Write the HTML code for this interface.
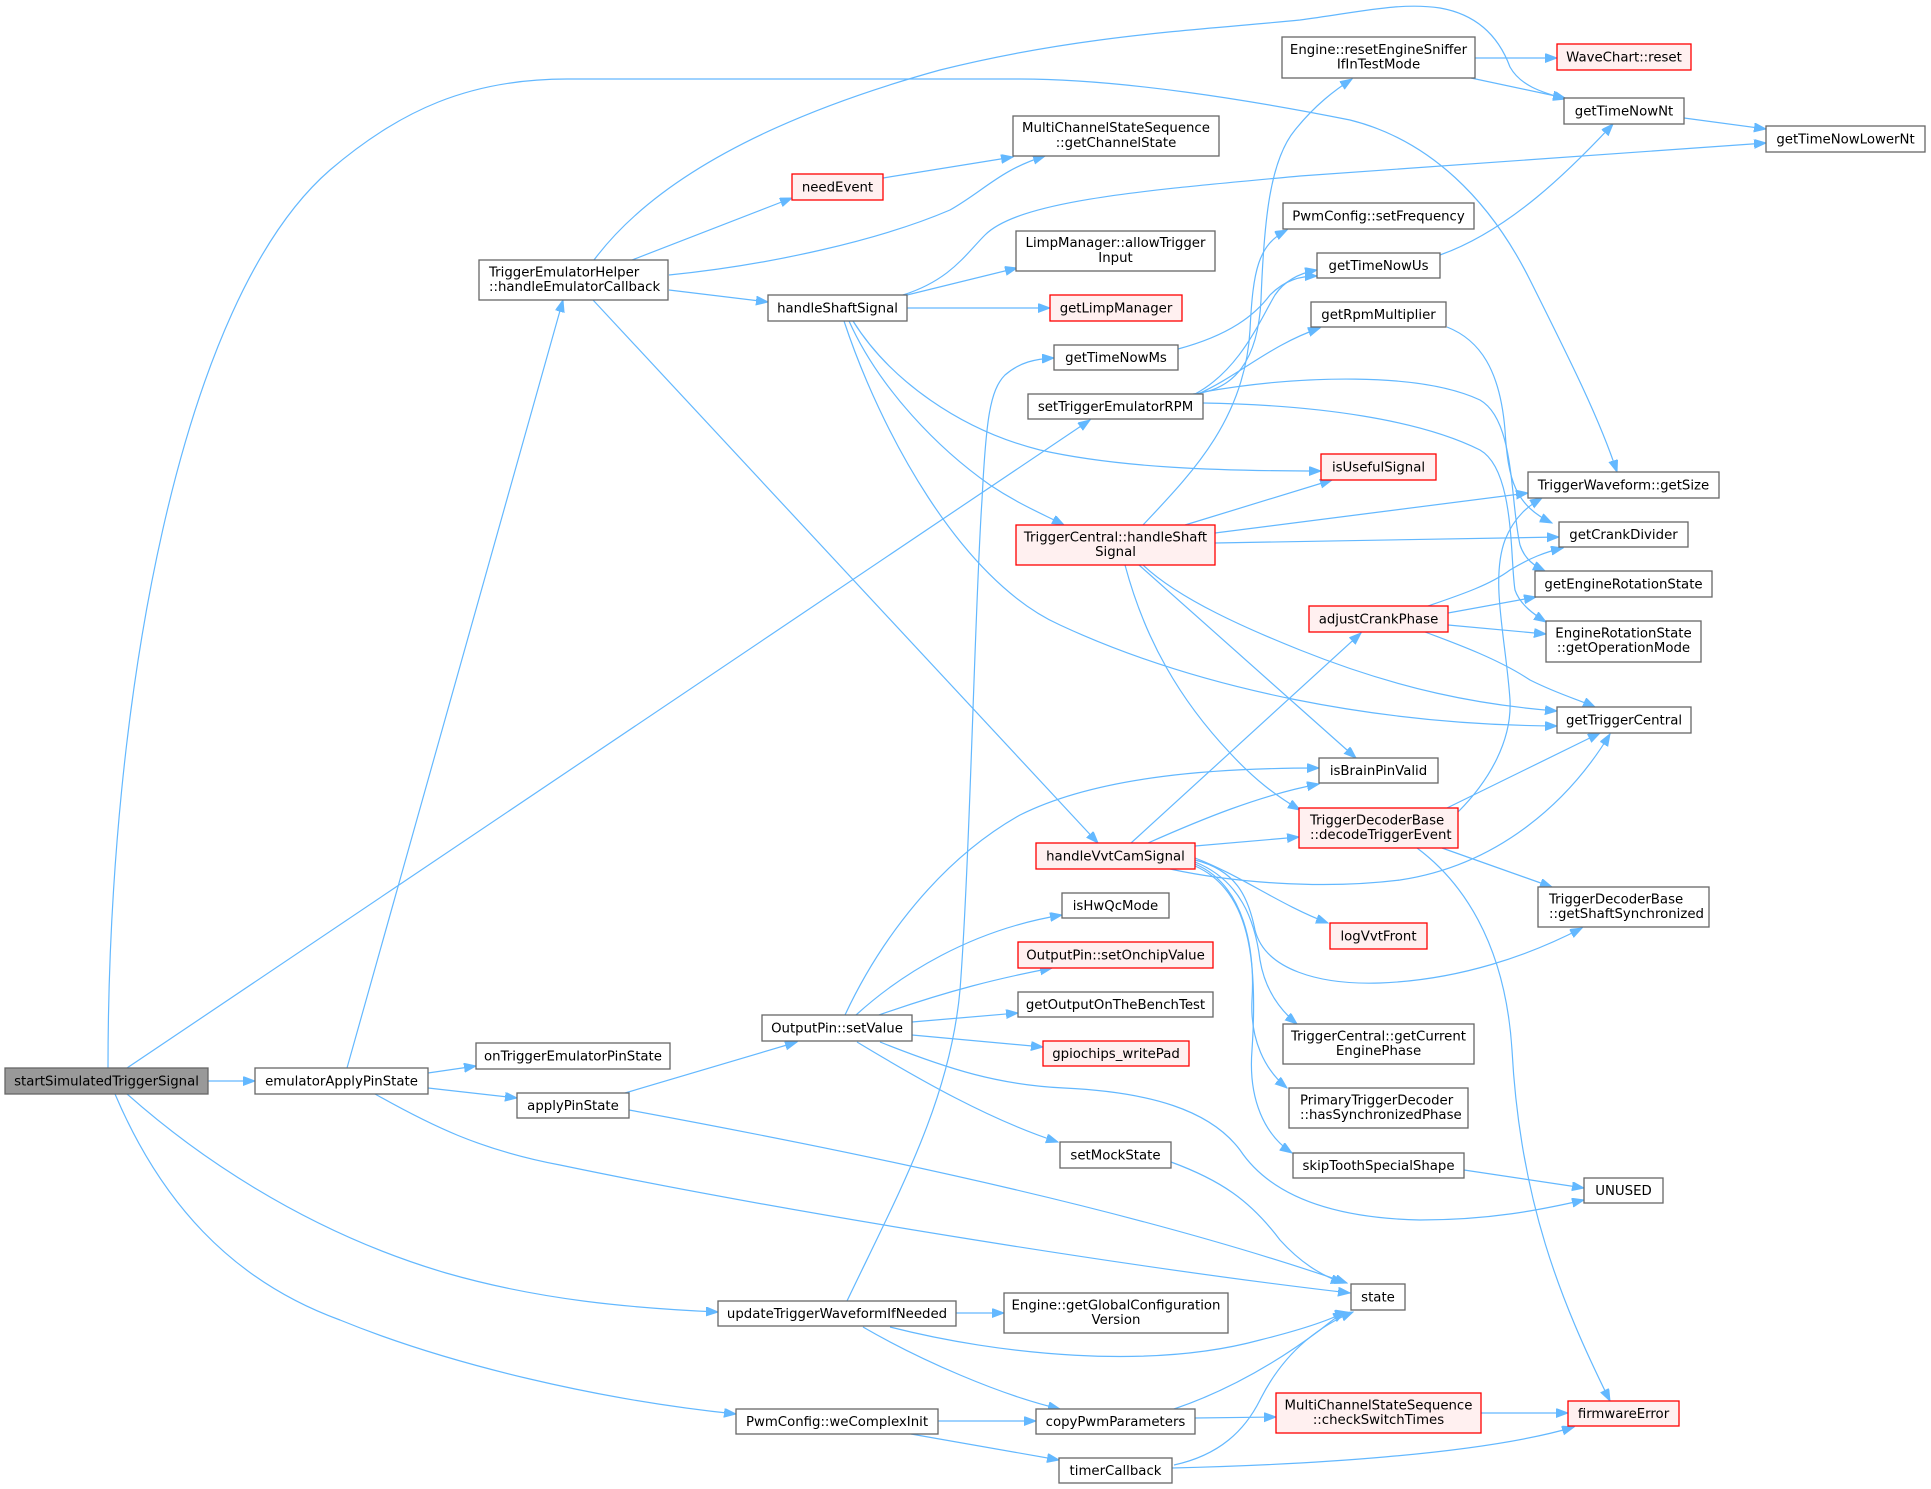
<!DOCTYPE html>
<html><head><meta charset="utf-8"><style>
html,body{margin:0;padding:0;background:#fff;}
svg{display:block;}
text{font-family:"DejaVu Sans","Liberation Sans",sans-serif;font-size:13.3px;fill:#000;}
.n{fill:#fff;stroke:#666;stroke-width:1.3;}
.r{fill:#fff0f0;stroke:#ff0000;stroke-width:1.3;}
.g{fill:#999;stroke:#666;stroke-width:1.3;}
.e{fill:none;stroke:#63b8ff;stroke-width:1.2;marker-end:url(#a);}
</style></head><body>
<svg width="1931" height="1489" viewBox="0 0 1931 1489" xmlns="http://www.w3.org/2000/svg">
<defs><marker id="a" markerWidth="13" markerHeight="10" refX="12" refY="4.5" orient="auto" markerUnits="userSpaceOnUse"><path d="M0,0 L12,4.5 L0,9 z" fill="#63b8ff" stroke="#63b8ff" stroke-width="1"/></marker></defs>

<!-- edges -->
<path class="e" d="M208,1081 L255,1081"/>
<path class="e" d="M108,1068 C108,700 180,300 330,170 C400,110 470,79 567,79 L1020,79 C1120,79 1250,100 1350,120 C1430,140 1490,200 1530,280 C1570,360 1600,420 1617,472"/>
<path class="e" d="M127,1068 L1090,420"/>
<path class="e" d="M127,1094 C190,1150 300,1230 446,1273 C540,1300 630,1308 718,1312"/>
<path class="e" d="M115,1094 C160,1200 230,1280 340,1320 C450,1365 600,1400 736,1414"/>
<path class="e" d="M347,1068 L563,300"/>
<path class="e" d="M428,1073 L476,1066"/>
<path class="e" d="M428,1088 L517,1098"/>
<path class="e" d="M375,1094 C430,1125 480,1150 560,1165 C800,1215 1150,1270 1350,1293"/>
<path class="e" d="M625,1093 L797,1042"/>
<path class="e" d="M629,1110 C900,1160 1150,1215 1347,1283"/>
<path class="e" d="M594,260 C650,185 760,120 940,70 C1080,35 1200,30 1300,20 C1360,12 1400,2 1440,8 C1480,15 1500,40 1510,67 C1520,85 1540,92 1566,99"/>
<path class="e" d="M632,260 L792,198"/>
<path class="e" d="M669,275 C770,265 880,240 950,210 C985,190 1000,170 1045,156"/>
<path class="e" d="M669,290 L768,302"/>
<path class="e" d="M593,300 L1098,843"/>
<path class="e" d="M883,178 L1013,157"/>
<path class="e" d="M903,295 C950,280 965,255 985,235 C1020,200 1150,190 1300,176 L1766,143"/>
<path class="e" d="M907,295 L1017,268"/>
<path class="e" d="M907,308 L1050,308"/>
<path class="e" d="M853,321 C890,380 960,430 1040,450 C1120,468 1220,471 1321,471"/>
<path class="e" d="M849,321 C880,390 940,450 990,485 C1020,505 1045,515 1064,525"/>
<path class="e" d="M844,321 C880,430 960,580 1060,625 C1200,690 1380,725 1557,726"/>
<path class="e" d="M1143,525 C1190,475 1245,420 1250,330 C1253,270 1258,245 1287,230"/>
<path class="e" d="M1193,394 C1235,390 1258,360 1261,300 C1264,220 1270,160 1295,130 C1315,105 1335,90 1352,79"/>
<path class="e" d="M1185,525 L1332,480"/>
<path class="e" d="M1215,533 L1528,493"/>
<path class="e" d="M1215,543 L1559,537"/>
<path class="e" d="M1143,565 C1180,600 1250,630 1300,650 C1400,690 1480,705 1557,711"/>
<path class="e" d="M1139,565 L1356,758"/>
<path class="e" d="M1125,565 C1145,640 1180,700 1230,753 C1255,780 1275,795 1300,810"/>
<path class="e" d="M1195,394 C1240,370 1260,320 1275,295 C1285,280 1300,273 1317,270"/>
<path class="e" d="M1198,394 C1240,375 1270,345 1320,328"/>
<path class="e" d="M1203,392 C1300,375 1420,372 1480,400 C1515,420 1510,500 1520,545 C1525,560 1535,566 1545,571"/>
<path class="e" d="M1203,403 C1320,405 1420,420 1480,450 C1515,470 1510,560 1515,590 C1520,605 1535,615 1546,622"/>
<path class="e" d="M1447,327 C1480,340 1500,370 1505,430 C1508,480 1515,505 1552,523"/>
<path class="e" d="M1178,349 C1230,335 1255,315 1270,295 C1285,280 1300,276 1317,276"/>
<path class="e" d="M1440,255 C1510,230 1570,170 1613,124"/>
<path class="e" d="M1475,58 L1557,58"/>
<path class="e" d="M1471,78 L1565,98"/>
<path class="e" d="M1684,118 L1766,129"/>
<path class="e" d="M1131,843 L1361,633"/>
<path class="e" d="M1148,843 C1200,820 1260,795 1319,784"/>
<path class="e" d="M1195,846 L1299,837"/>
<path class="e" d="M1170,869 C1230,882 1320,890 1400,880 C1500,865 1570,800 1610,734"/>
<path class="e" d="M1195,858 C1240,875 1280,905 1328,923"/>
<path class="e" d="M1195,860 C1235,870 1248,895 1255,930 C1265,970 1320,985 1380,983 C1460,980 1530,955 1582,928"/>
<path class="e" d="M1195,862 C1240,880 1255,920 1260,960 C1265,990 1280,1010 1297,1024"/>
<path class="e" d="M1195,864 C1245,885 1255,950 1252,1000 C1250,1040 1265,1070 1287,1088"/>
<path class="e" d="M1195,866 C1250,890 1258,960 1252,1050 C1248,1100 1265,1135 1292,1153"/>
<path class="e" d="M1428,606 C1460,595 1490,585 1510,570 C1530,558 1545,552 1563,548"/>
<path class="e" d="M1448,613 L1536,597"/>
<path class="e" d="M1448,625 L1546,634"/>
<path class="e" d="M1425,632 C1460,645 1500,660 1530,680 C1560,695 1580,700 1595,707"/>
<path class="e" d="M1458,812 C1490,780 1512,740 1510,700 C1506,640 1490,580 1505,540 C1515,515 1530,505 1542,498"/>
<path class="e" d="M1447,808 L1600,733"/>
<path class="e" d="M1442,848 L1552,887"/>
<path class="e" d="M1417,848 C1460,880 1505,940 1512,1050 C1520,1200 1560,1300 1610,1401"/>
<path class="e" d="M845,1015 C880,940 940,860 1020,815 C1100,775 1220,768 1319,768"/>
<path class="e" d="M856,1015 C900,975 970,930 1062,915"/>
<path class="e" d="M879,1015 C950,990 1000,978 1052,968"/>
<path class="e" d="M912,1022 L1018,1013"/>
<path class="e" d="M912,1035 L1043,1047"/>
<path class="e" d="M857,1042 C920,1080 990,1120 1058,1142"/>
<path class="e" d="M880,1042 C950,1070 1000,1085 1064,1088 C1150,1092 1210,1110 1240,1150 C1270,1195 1330,1218 1420,1220 C1490,1220 1540,1210 1584,1200"/>
<path class="e" d="M1171,1162 C1220,1180 1250,1200 1280,1240 C1300,1262 1320,1275 1343,1283"/>
<path class="e" d="M1464,1170 L1584,1188"/>
<path class="e" d="M847,1301 C900,1190 950,1100 960,990 C970,860 975,600 982,500 C986,420 990,390 1005,375 C1020,362 1035,359 1054,358"/>
<path class="e" d="M956,1313 L1004,1313"/>
<path class="e" d="M890,1327 C1000,1355 1150,1370 1260,1340 C1300,1330 1330,1320 1345,1312"/>
<path class="e" d="M863,1327 C920,1360 1000,1395 1060,1409"/>
<path class="e" d="M938,1421 L1036,1421"/>
<path class="e" d="M911,1434 L1059,1460"/>
<path class="e" d="M1174,1409 C1230,1390 1280,1360 1320,1330 C1335,1318 1342,1313 1347,1312"/>
<path class="e" d="M1195,1418 L1276,1417"/>
<path class="e" d="M1174,1465 C1220,1455 1245,1430 1260,1400 C1280,1360 1310,1330 1353,1312"/>
<path class="e" d="M1172,1468 C1300,1465 1480,1455 1574,1427"/>
<path class="e" d="M1481,1413 L1568,1413"/>

<!-- nodes -->
<rect class="g" x="5" y="1068" width="203" height="26"/><text x="106.5" y="1085.5" text-anchor="middle">startSimulatedTriggerSignal</text>
<rect class="n" x="255" y="1068" width="173" height="26"/><text x="341.5" y="1085.5" text-anchor="middle">emulatorApplyPinState</text>
<rect class="n" x="479" y="260" width="189" height="40"/><text x="489" y="276.5">TriggerEmulatorHelper</text><text x="489" y="291">::handleEmulatorCallback</text>
<rect class="n" x="476" y="1043" width="194" height="26"/><text x="573" y="1060.5" text-anchor="middle">onTriggerEmulatorPinState</text>
<rect class="n" x="517" y="1093" width="112" height="25"/><text x="573" y="1110" text-anchor="middle">applyPinState</text>
<rect class="n" x="1013" y="116" width="206" height="40"/><text x="1116" y="132" text-anchor="middle">MultiChannelStateSequence</text><text x="1116" y="147" text-anchor="middle">::getChannelState</text>
<rect class="r" x="792" y="174" width="91" height="26"/><text x="837.5" y="191.5" text-anchor="middle">needEvent</text>
<rect class="n" x="1016" y="231" width="199" height="40"/><text x="1115.5" y="247" text-anchor="middle">LimpManager::allowTrigger</text><text x="1115.5" y="262" text-anchor="middle">Input</text>
<rect class="n" x="768" y="295" width="139" height="26"/><text x="837.5" y="312.5" text-anchor="middle">handleShaftSignal</text>
<rect class="r" x="1050" y="295" width="132" height="26"/><text x="1116" y="312.5" text-anchor="middle">getLimpManager</text>
<rect class="n" x="1054" y="345" width="124" height="25"/><text x="1116" y="362" text-anchor="middle">getTimeNowMs</text>
<rect class="n" x="1028" y="394" width="175" height="25"/><text x="1115.5" y="411" text-anchor="middle">setTriggerEmulatorRPM</text>
<rect class="n" x="1282" y="37" width="193" height="41"/><text x="1378.5" y="54" text-anchor="middle">Engine::resetEngineSniffer</text><text x="1378.5" y="68.5" text-anchor="middle">IfInTestMode</text>
<rect class="r" x="1557" y="44" width="134" height="26"/><text x="1624" y="61.5" text-anchor="middle">WaveChart::reset</text>
<rect class="n" x="1564" y="98" width="120" height="26"/><text x="1624" y="115.5" text-anchor="middle">getTimeNowNt</text>
<rect class="n" x="1766" y="126" width="159" height="26"/><text x="1845.5" y="143.5" text-anchor="middle">getTimeNowLowerNt</text>
<rect class="n" x="1283" y="203" width="191" height="26"/><text x="1378.5" y="220.5" text-anchor="middle">PwmConfig::setFrequency</text>
<rect class="n" x="1317" y="253" width="123" height="25"/><text x="1378.5" y="270" text-anchor="middle">getTimeNowUs</text>
<rect class="n" x="1311" y="302" width="135" height="25"/><text x="1378.5" y="319" text-anchor="middle">getRpmMultiplier</text>
<rect class="r" x="1321" y="454" width="115" height="26"/><text x="1378.5" y="471.5" text-anchor="middle">isUsefulSignal</text>
<rect class="n" x="1528" y="472" width="191" height="26"/><text x="1623.5" y="489.5" text-anchor="middle">TriggerWaveform::getSize</text>
<rect class="r" x="1016" y="525" width="199" height="40"/><text x="1115.5" y="541.5" text-anchor="middle">TriggerCentral::handleShaft</text><text x="1115.5" y="556" text-anchor="middle">Signal</text>
<rect class="r" x="1036" y="843" width="159" height="26"/><text x="1115.5" y="860.5" text-anchor="middle">handleVvtCamSignal</text>
<rect class="n" x="1062" y="893" width="107" height="25"/><text x="1115.5" y="910" text-anchor="middle">isHwQcMode</text>
<rect class="r" x="1018" y="942" width="195" height="26"/><text x="1115.5" y="959.5" text-anchor="middle">OutputPin::setOnchipValue</text>
<rect class="n" x="1018" y="992" width="195" height="25"/><text x="1115.5" y="1009" text-anchor="middle">getOutputOnTheBenchTest</text>
<rect class="n" x="1559" y="522" width="129" height="25"/><text x="1623.5" y="539" text-anchor="middle">getCrankDivider</text>
<rect class="n" x="1535" y="571" width="177" height="26"/><text x="1623.5" y="588.5" text-anchor="middle">getEngineRotationState</text>
<rect class="n" x="1546" y="621" width="155" height="41"/><text x="1623.5" y="637.5" text-anchor="middle">EngineRotationState</text><text x="1623.5" y="652" text-anchor="middle">::getOperationMode</text>
<rect class="r" x="1309" y="606" width="139" height="26"/><text x="1378.5" y="623.5" text-anchor="middle">adjustCrankPhase</text>
<rect class="n" x="1557" y="707" width="134" height="26"/><text x="1624" y="724.5" text-anchor="middle">getTriggerCentral</text>
<rect class="n" x="1319" y="758" width="119" height="25"/><text x="1378.5" y="775" text-anchor="middle">isBrainPinValid</text>
<rect class="r" x="1299" y="808" width="159" height="40"/><text x="1310" y="824.5">TriggerDecoderBase</text><text x="1310" y="839">::decodeTriggerEvent</text>
<rect class="n" x="1538" y="887" width="171" height="40"/><text x="1549" y="903.5">TriggerDecoderBase</text><text x="1549" y="918">::getShaftSynchronized</text>
<rect class="r" x="1330" y="923" width="97" height="26"/><text x="1378.5" y="940.5" text-anchor="middle">logVvtFront</text>
<rect class="n" x="762" y="1015" width="150" height="26"/><text x="837" y="1032.5" text-anchor="middle">OutputPin::setValue</text>
<rect class="r" x="1043" y="1041" width="146" height="25"/><text x="1116" y="1058" text-anchor="middle">gpiochips_writePad</text>
<rect class="n" x="1060" y="1142" width="111" height="26"/><text x="1115.5" y="1159.5" text-anchor="middle">setMockState</text>
<rect class="n" x="718" y="1301" width="238" height="25"/><text x="837" y="1318" text-anchor="middle">updateTriggerWaveformIfNeeded</text>
<rect class="n" x="1004" y="1293" width="224" height="40"/><text x="1116" y="1309.5" text-anchor="middle">Engine::getGlobalConfiguration</text><text x="1116" y="1324" text-anchor="middle">Version</text>
<rect class="n" x="736" y="1409" width="202" height="25"/><text x="837" y="1426" text-anchor="middle">PwmConfig::weComplexInit</text>
<rect class="n" x="1036" y="1409" width="159" height="25"/><text x="1115.5" y="1426" text-anchor="middle">copyPwmParameters</text>
<rect class="n" x="1059" y="1458" width="113" height="25"/><text x="1115.5" y="1475" text-anchor="middle">timerCallback</text>
<rect class="n" x="1283" y="1024" width="191" height="40"/><text x="1378.5" y="1040.5" text-anchor="middle">TriggerCentral::getCurrent</text><text x="1378.5" y="1055" text-anchor="middle">EnginePhase</text>
<rect class="n" x="1289" y="1088" width="179" height="40"/><text x="1300" y="1104.5">PrimaryTriggerDecoder</text><text x="1300" y="1119">::hasSynchronizedPhase</text>
<rect class="n" x="1293" y="1153" width="171" height="25"/><text x="1378.5" y="1170" text-anchor="middle">skipToothSpecialShape</text>
<rect class="n" x="1584" y="1178" width="79" height="25"/><text x="1623.5" y="1195" text-anchor="middle">UNUSED</text>
<rect class="n" x="1351" y="1284" width="54" height="26"/><text x="1378" y="1301.5" text-anchor="middle">state</text>
<rect class="r" x="1276" y="1393" width="205" height="40"/><text x="1378.5" y="1409.5" text-anchor="middle">MultiChannelStateSequence</text><text x="1378.5" y="1424" text-anchor="middle">::checkSwitchTimes</text>
<rect class="r" x="1568" y="1401" width="111" height="25"/><text x="1623.5" y="1418" text-anchor="middle">firmwareError</text>
</svg>
</body></html>
